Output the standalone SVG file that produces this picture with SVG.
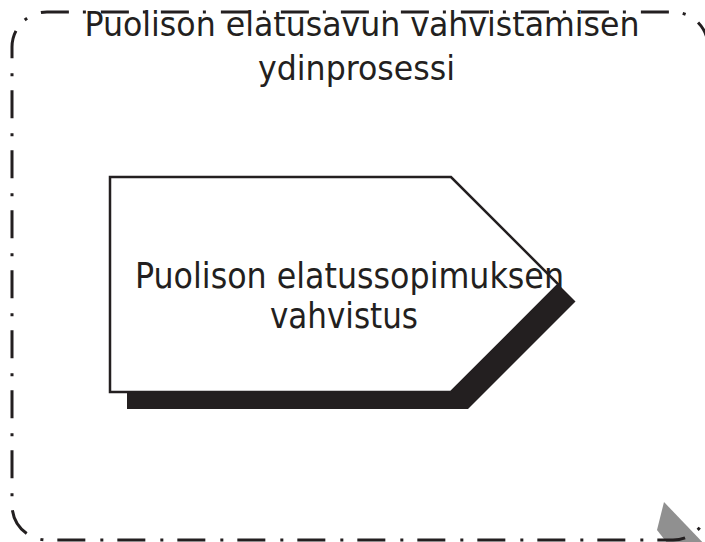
<svg xmlns="http://www.w3.org/2000/svg" width="705" height="542" viewBox="0 0 705 542">
  <style>
    .label { font-family: "DejaVu Sans Condensed", "DejaVu Sans", sans-serif; fill: #231f20; text-anchor: middle; }
    .border { fill: none; stroke: #231f20; stroke-width: 3; stroke-dasharray: 28 15 3 14; stroke-dashoffset: 1; }
    .shadow { fill: #231f20; }
    .step { fill: #ffffff; stroke: #231f20; stroke-width: 2.5; stroke-linejoin: miter; }
  </style>
  <rect width="705" height="542" fill="#ffffff"/>

  <!-- connector piece entering at lower right -->
  <g id="connectors">
    <polygon points="664,502 708,548 671,548 657,530" fill="#909090"/>
  </g>

  <!-- swimlane / process container -->
  <g id="core-process">
    <path class="border" d="M708,47 A35,35 0 0 0 673,12 L47,12 A35,35 0 0 0 12,47 L12,505 A35,35 0 0 0 47,540 L673,540 A35,35 0 0 0 708,505 Z"/>
    <text class="label" font-size="34" x="362" y="36" textLength="555" lengthAdjust="spacingAndGlyphs">Puolison elatusavun vahvistamisen</text>
    <text class="label" font-size="34" x="356.5" y="80" textLength="197" lengthAdjust="spacingAndGlyphs">ydinprosessi</text>
  </g>

  <!-- process step with drop shadow -->
  <g id="step-agreement">
    <polygon class="shadow" points="127,194 468,194 575.5,301.5 468,409 127,409"/>
    <polygon class="step" points="110,177 451,177 558.5,284.5 451,392 110,392"/>
    <text class="label" font-size="35" x="349.5" y="288" textLength="429" lengthAdjust="spacingAndGlyphs">Puolison elatussopimuksen</text>
    <text class="label" font-size="35" x="344" y="328" textLength="148" lengthAdjust="spacingAndGlyphs">vahvistus</text>
  </g>
</svg>
